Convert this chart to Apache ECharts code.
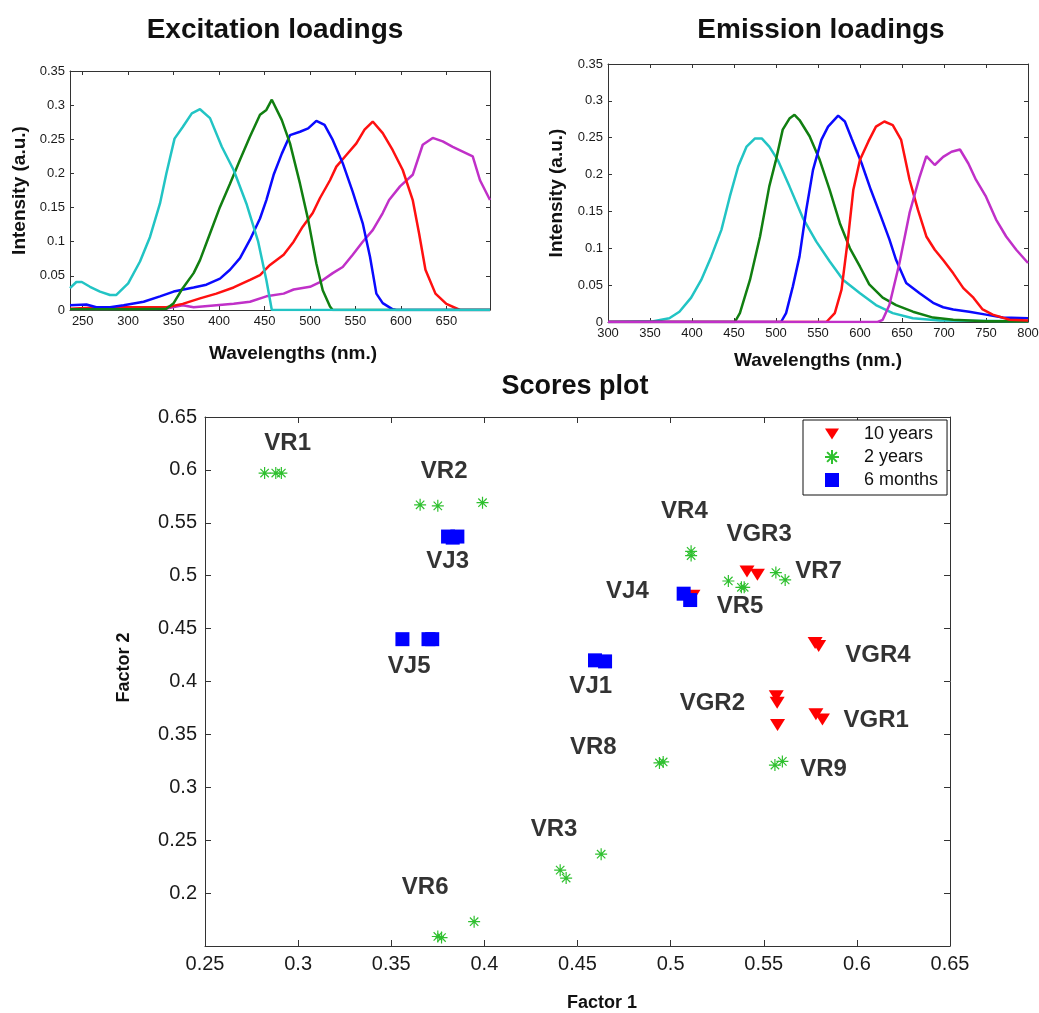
<!DOCTYPE html>
<html>
<head>
<meta charset="utf-8">
<script src="https://cdn.jsdelivr.net/npm/echarts/dist/echarts.min.js"></script>
<style>
  html, body { margin: 0; padding: 0; background: #fff; }
  #chart { width: 1039px; height: 1013px; }
</style>
</head>
<body>
<div id="chart"></div>
<script>
  // excitation loadings, [nm, intensity]
  const excCyan = [[236,0.032],[243,0.041],[249,0.041],[258,0.034],[269,0.027],[280,0.022],[287,0.022],[300,0.039],[313,0.071],[324,0.107],[335,0.156],[342,0.2],[351,0.251],[360,0.268],[370,0.288],[379,0.294],[390,0.281],[403,0.239],[416,0.205],[430,0.156],[443,0.1],[452,0.044],[458,0],[698,0]]
  const excGreen = [[236,0.001],[300,0.001],[342,0.002],[350,0.01],[360,0.032],[372,0.054],[379,0.073],[390,0.112],[401,0.151],[412,0.185],[423,0.22],[434,0.254],[445,0.286],[452,0.293],[458,0.308],[469,0.278],[478,0.244],[489,0.185],[498,0.132],[507,0.068],[514,0.029],[522,0.005],[525,0],[698,0]]
  const excBlue = [[236,0.007],[254,0.008],[265,0.004],[280,0.004],[295,0.007],[317,0.012],[335,0.02],[350,0.027],[372,0.033],[386,0.037],[401,0.046],[412,0.059],[423,0.076],[434,0.103],[445,0.134],[452,0.161],[460,0.198],[469,0.229],[478,0.256],[489,0.261],[498,0.266],[507,0.277],[516,0.271],[525,0.249],[536,0.215],[547,0.173],[558,0.127],[566,0.078],[573,0.024],[580,0.01],[591,0.001],[595,0],[698,0]]
  const excRed = [[236,0.002],[269,0.004],[306,0.004],[342,0.004],[360,0.009],[379,0.017],[397,0.024],[416,0.033],[434,0.044],[445,0.051],[456,0.066],[471,0.081],[482,0.1],[492,0.122],[503,0.142],[511,0.164],[522,0.19],[529,0.21],[540,0.227],[551,0.244],[560,0.264],[569,0.276],[580,0.259],[591,0.234],[602,0.205],[613,0.161],[620,0.112],[627,0.059],[638,0.024],[650,0.009],[665,0],[698,0]]
  const excMagenta = [[236,0.001],[342,0.002],[360,0.007],[372,0.004],[397,0.007],[416,0.009],[434,0.012],[452,0.02],[471,0.024],[482,0.03],[500,0.034],[511,0.041],[525,0.054],[536,0.063],[547,0.081],[558,0.1],[569,0.117],[580,0.142],[587,0.161],[599,0.181],[613,0.198],[624,0.242],[635,0.252],[646,0.247],[657,0.239],[668,0.232],[679,0.225],[687,0.19],[698,0.161]]

  // emission loadings, [nm, intensity]
  const emCyan = [[300,0],[354,0.001],[373,0.005],[385,0.014],[399,0.033],[411,0.057],[423,0.089],[435,0.125],[445,0.17],[455,0.211],[465,0.238],[475,0.249],[483,0.249],[492,0.238],[502,0.22],[516,0.184],[532,0.141],[548,0.109],[564,0.082],[580,0.057],[600,0.039],[619,0.023],[639,0.012],[663,0.005],[695,0.002],[800,0.001]]
  const emGreen = [[300,0],[451,0],[457,0.012],[469,0.057],[481,0.116],[492,0.184],[500,0.22],[508,0.261],[516,0.276],[522,0.281],[528,0.274],[540,0.252],[552,0.22],[564,0.179],[576,0.134],[588,0.1],[600,0.075],[611,0.051],[627,0.033],[643,0.023],[663,0.014],[687,0.006],[711,0.003],[750,0.001],[800,0.001]]
  const emBlue = [[300,0],[506,0],[512,0.012],[520,0.048],[528,0.089],[536,0.152],[544,0.206],[554,0.247],[562,0.265],[574,0.28],[582,0.272],[590,0.249],[602,0.215],[613,0.179],[625,0.143],[635,0.112],[643,0.084],[655,0.053],[671,0.039],[687,0.026],[699,0.02],[711,0.017],[730,0.014],[750,0.01],[770,0.006],[800,0.005]]
  const emRed = [[300,0],[560,0],[570,0.012],[578,0.044],[586,0.116],[592,0.179],[600,0.22],[610,0.245],[619,0.265],[629,0.272],[639,0.267],[649,0.247],[659,0.193],[669,0.152],[679,0.116],[689,0.098],[699,0.084],[711,0.066],[723,0.046],[735,0.033],[746,0.017],[758,0.01],[778,0.003],[800,0.002]]
  const emMagenta = [[300,0],[621,0],[627,0.003],[635,0.023],[647,0.08],[659,0.148],[671,0.197],[679,0.225],[689,0.213],[699,0.224],[709,0.231],[719,0.234],[729,0.215],[738,0.193],[750,0.17],[762,0.139],[774,0.116],[786,0.098],[800,0.08]]

  // scores, [factor 1, factor 2]
  const years10 = [[0.541,0.504],[0.5466,0.501],[0.512,0.481],[0.5776,0.4365],[0.5795,0.4335],[0.5567,0.386],[0.5572,0.38],[0.5574,0.359],[0.578,0.369],[0.5815,0.364]]
  const years2 = [[0.282,0.597],[0.288,0.597],[0.291,0.597],[0.3655,0.567],[0.375,0.566],[0.399,0.569],[0.511,0.523],[0.511,0.519],[0.531,0.495],[0.5395,0.489],[0.538,0.489],[0.5565,0.503],[0.5615,0.496],[0.494,0.323],[0.496,0.324],[0.556,0.321],[0.56,0.3245],[0.4407,0.2217],[0.4439,0.2142],[0.4627,0.2368],[0.375,0.159],[0.377,0.158],[0.3945,0.173]]
  const months6 = [[0.3805,0.537],[0.383,0.536],[0.3855,0.537],[0.356,0.44],[0.37,0.44],[0.372,0.44],[0.507,0.483],[0.5105,0.477],[0.4594,0.42],[0.4648,0.419]]

  const sampleNames = ['VR1','VR2','VJ3','VJ5','VR4','VGR3','VR7','VJ4','VR5','VGR4','VJ1','VGR2','VGR1','VR8','VR9','VR3','VR6']
  const sampleNamePos = [[0.2944,0.6252],[0.3784,0.5984],[0.3803,0.5135],[0.3596,0.4144],[0.5074,0.5607],[0.5475,0.5387],[0.5794,0.5041],[0.4768,0.4852],[0.5373,0.471],[0.6113,0.4245],[0.4571,0.3956],[0.5224,0.3792],[0.6104,0.3635],[0.4585,0.3375],[0.5821,0.317],[0.4374,0.2604],[0.3682,0.2057]]

  const excTicks = [250, 300, 350, 400, 450, 500, 550, 600, 650]

  const font = 'Liberation Sans, Arial, sans-serif'
  const axisCol = '#333'

  let dom = echarts.init(document.getElementById('chart'))

  /* x or y axis of one boxed grid */
  function boxAxis(grid, pos, range, showLabel, fontSize, extra) {
    let big = fontSize > 14
    let ax = {
      type: 'value',
      gridIndex: grid,
      position: pos,
      min: range[0],
      max: range[1],
      splitLine: { show: false },
      axisLine: { onZero: false, lineStyle: { color: axisCol, width: 1 } },
      axisTick: { inside: true, length: big ? 6 : 4, lineStyle: { color: axisCol } },
      axisLabel: { show: showLabel, color: '#1a1a1a', fontSize: fontSize, fontFamily: font, margin: big ? 8 : 5 }
    }
    if (range[2]) ax.interval = range[2]
    return Object.assign(ax, extra || {})
  }

  const nameStyle = (size, pad) => ({ fontSize: size, fontWeight: 'bold', color: '#111', fontFamily: font, padding: pad || 0 })

  function curve(name, data, color, xi) {
    return {
      name: name,
      type: 'line',
      xAxisIndex: xi,
      yAxisIndex: xi,
      data: data,
      showSymbol: false,
      symbol: 'none',
      silent: true,
      lineStyle: { color: color, width: 2.5 }
    }
  }

  const cCyan = '#22c4c4', cGreen = '#117f11', cBlue = '#0a0aff', cRed = '#ff1010', cMag = '#c030c8'

  const excCustom = {
    axisLabel: { color: '#1a1a1a', fontSize: 13, fontFamily: font, margin: 5, customValues: excTicks },
    axisTick: { inside: true, length: 4, lineStyle: { color: axisCol }, customValues: excTicks }
  }
  const excCustomTop = {
    axisLabel: { show: false },
    axisTick: { inside: true, length: 4, lineStyle: { color: axisCol }, customValues: excTicks }
  }

  let option = {
    animation: false,
    backgroundColor: '#fff',
    title: [
      { text: 'Excitation loadings', left: 270, top: 11, textAlign: 'center', textStyle: nameStyle(28) },
      { text: 'Emission loadings', left: 816, top: 11, textAlign: 'center', textStyle: nameStyle(28) },
      { text: 'Scores plot', left: 570, top: 368, textAlign: 'center', textStyle: nameStyle(27) }
    ],
    grid: [
      { left: 70, top: 71, width: 420, height: 239, outerBoundsMode: 'none' },
      { left: 608, top: 64, width: 420, height: 258, outerBoundsMode: 'none' },
      { left: 205, top: 417, width: 745, height: 529, outerBoundsMode: 'none' }
    ],
    xAxis: [
      boxAxis(0, 'bottom', [236, 698], true, 13, Object.assign({
        name: 'Wavelengths (nm.)', nameLocation: 'middle', nameGap: 34, nameTextStyle: nameStyle(19, [0, 0, 0, 26])
      }, excCustom)),
      boxAxis(0, 'top', [236, 698], false, 13, excCustomTop),
      boxAxis(1, 'bottom', [300, 800, 50], true, 13, {
        name: 'Wavelengths (nm.)', nameLocation: 'middle', nameGap: 29, nameTextStyle: nameStyle(19)
      }),
      boxAxis(1, 'top', [300, 800, 50], false, 13),
      boxAxis(2, 'bottom', [0.25, 0.65, 0.05], true, 20, {
        name: 'Factor 1', nameLocation: 'middle', nameGap: 48, nameTextStyle: nameStyle(18, [0, 0, 0, 49])
      }),
      boxAxis(2, 'top', [0.25, 0.65, 0.05], false, 20)
    ],
    yAxis: [
      boxAxis(0, 'left', [0, 0.35, 0.05], true, 13, {
        name: 'Intensity (a.u.)', nameLocation: 'middle', nameGap: 41, nameTextStyle: nameStyle(19)
      }),
      boxAxis(0, 'right', [0, 0.35, 0.05], false, 13),
      boxAxis(1, 'left', [0, 0.35, 0.05], true, 13, {
        name: 'Intensity (a.u.)', nameLocation: 'middle', nameGap: 42, nameTextStyle: nameStyle(19)
      }),
      boxAxis(1, 'right', [0, 0.35, 0.05], false, 13),
      boxAxis(2, 'left', [0.15, 0.65, 0.05], true, 20, {
        name: 'Factor 2', nameLocation: 'middle', nameGap: 72, nameTextStyle: nameStyle(18, [0, 0, 0, 28]),
        axisLabel: { color: '#1a1a1a', fontSize: 20, fontFamily: font, margin: 8, showMinLabel: false }
      }),
      boxAxis(2, 'right', [0.15, 0.65, 0.05], false, 20)
    ],
    legend: {
      data: ['10 years', '2 years', '6 months'],
      orient: 'vertical',
      left: 803,
      top: 420,
      padding: [4, 9, 5, 21],
      itemWidth: 14,
      itemHeight: 14,
      itemGap: 3,
      backgroundColor: '#fff',
      borderColor: '#111',
      borderWidth: 1,
      borderRadius: 0,
      textStyle: { fontSize: 18, lineHeight: 20, color: '#111', fontFamily: font, padding: [0, 0, 0, 20] }
    },
    series: [
      curve('m', excMagenta, cMag, 0),
      curve('r', excRed, cRed, 0),
      curve('b', excBlue, cBlue, 0),
      curve('g', excGreen, cGreen, 0),
      curve('c', excCyan, cCyan, 0),
      curve('c2', emCyan, cCyan, 2),
      curve('g2', emGreen, cGreen, 2),
      curve('b2', emBlue, cBlue, 2),
      curve('r2', emRed, cRed, 2),
      curve('m2', emMagenta, cMag, 2),
      {
        name: '10 years',
        type: 'scatter',
        xAxisIndex: 4,
        yAxisIndex: 4,
        data: years10,
        symbol: 'path://M0,0L15,0L7.5,12Z',
        symbolSize: [15, 12],
        itemStyle: { color: '#ff0000', opacity: 1 }
      },
      {
        name: '2 years',
        type: 'scatter',
        xAxisIndex: 4,
        yAxisIndex: 4,
        data: years2,
        symbol: 'path://M0,5L10,5M5,0L5,10M1.5,1.5L8.5,8.5M1.5,8.5L8.5,1.5',
        symbolSize: 12,
        itemStyle: { color: '#2fc02f', borderColor: '#2fc02f', borderWidth: 1.2, opacity: 1 }
      },
      {
        name: '6 months',
        type: 'scatter',
        xAxisIndex: 4,
        yAxisIndex: 4,
        data: months6,
        symbol: 'rect',
        symbolSize: 14,
        itemStyle: { color: '#0000ff', opacity: 1 }
      },
      {
        name: 'names',
        type: 'scatter',
        xAxisIndex: 4,
        yAxisIndex: 4,
        silent: true,
        symbolSize: 1,
        itemStyle: { color: 'rgba(0,0,0,0)' },
        data: sampleNames.map((n, i) => ({ name: n, value: sampleNamePos[i] })),
        label: {
          show: true,
          position: 'inside',
          formatter: (p) => p.name,
          fontSize: 24,
          fontWeight: 'bold',
          color: '#000',
          textBorderWidth: 0,
          fontFamily: font
        }
      }
    ]
  }

  dom.setOption(option)
</script>
</body>
</html>
